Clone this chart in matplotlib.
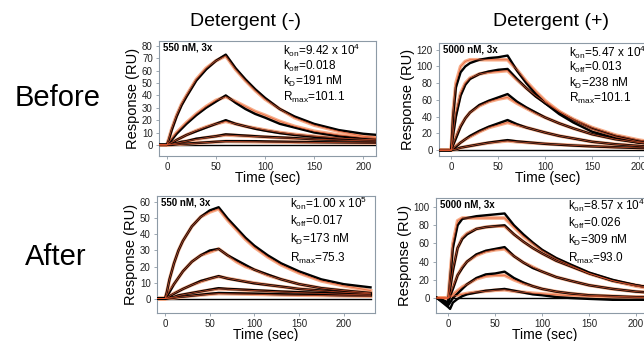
import matplotlib
matplotlib.use("Agg")
import matplotlib.pyplot as plt

plt.rcParams['font.family'] = ['Liberation Sans', 'DejaVu Sans']
plt.rcParams['mathtext.fontset'] = 'custom'
plt.rcParams['mathtext.rm'] = 'Liberation Sans'
plt.rcParams['mathtext.it'] = 'Liberation Sans:italic'
plt.rcParams['mathtext.default'] = 'regular'

# time grid (sec)
time = [-12, 0, 2, 5, 10, 15, 20, 30, 40, 50, 60, 70, 80, 90, 100, 115, 130, 150, 175, 200, 230]
blank = [0] * len(time)

# Before, Detergent (-) : data / fit
tl_data = [
    [0, 0, 4, 12, 23, 32, 39, 52, 61, 68, 73, 62, 53, 45, 38, 29, 23, 17, 12, 9, 7],
    [0, 0, 1, 4, 9, 13, 17, 24, 30, 35, 40, 34, 29, 25, 22, 17, 14, 10, 7, 5, 4],
    [0, 0, 0.5, 1.5, 4, 6, 8, 11, 14, 17, 20, 17, 15, 13, 11.5, 9.5, 8, 6.5, 5, 4, 3],
    [0, 0, 0.2, 0.5, 1.5, 2.5, 3, 5, 6, 7, 8.5, 8, 7.5, 7, 6.5, 6, 5.5, 4.5, 4, 3.5, 3],
    [0, 0, 0, 0, 0.5, 1, 1, 1.5, 2, 2.5, 3, 3, 3, 3, 2.8, 2.6, 2.4, 2.2, 2, 1.8, 1.6],
]
tl_fit = [
    [0, 0, 5, 13, 24, 33, 40, 53, 62, 68, 72, 61, 52, 44, 37, 29, 22, 16, 11, 7, 5],
    [0, 0, 2, 5, 10, 14, 18, 25, 31, 36, 39, 35, 31, 27, 24, 19, 15, 11, 8, 6, 4],
    [0, 0, 0.7, 2, 4, 6, 8, 11.5, 14.5, 17, 19, 17, 15, 13.5, 12, 10, 8.5, 7, 5.5, 4.5, 3.5],
    [0, 0, 0.2, 0.6, 1.4, 2.2, 3, 4.5, 5.8, 7, 8, 7.6, 7.2, 6.8, 6.4, 5.8, 5.3, 4.6, 3.9, 3.3, 2.7],
    [0, 0, 0, 0.1, 0.4, 0.7, 0.9, 1.4, 1.9, 2.4, 2.8, 2.7, 2.6, 2.5, 2.4, 2.3, 2.2, 2, 1.8, 1.6, 1.4],
]

# Before, Detergent (+)
tr_data = [
    [0, 0, 40, 75, 93, 100, 104, 108, 110, 111, 113, 95, 80, 67, 56, 43, 33, 22, 14, 9, 6],
    [0, 0, 18, 40, 65, 78, 85, 91, 94, 96, 97, 85, 74, 64, 56, 45, 36, 26, 17, 11, 7],
    [0, 0, 6, 14, 28, 38, 45, 54, 59, 63, 67, 58, 51, 45, 39, 32, 26, 19, 13, 9, 6],
    [0, 0, 1.5, 4, 9, 13, 17, 23, 28, 32, 36, 31, 27, 24, 21, 17, 14, 10, 7, 5, 3],
    [0, 0, 0.5, 1, 3, 4, 5, 7, 9, 10.5, 12, 10.5, 9.5, 8.5, 7.5, 6.5, 5.5, 4.5, 3.5, 2.5, 2],
]
tr_fit = [
    [0, 0, 45, 80, 100, 106, 108, 108, 108, 108, 108, 96, 82, 70, 59, 46, 36, 25, 16, 10, 6],
    [0, 0, 20, 45, 68, 80, 86, 91, 93, 94, 95, 84, 74, 65, 57, 46, 37, 27, 18, 12, 7],
    [0, 0, 7, 16, 29, 38, 45, 53, 58, 61, 63, 56, 50, 44, 39, 32, 26, 19, 13, 9, 6],
    [0, 0, 2, 5, 9, 13, 16, 22, 27, 30, 33, 30, 27, 24, 21, 17, 14, 10, 7, 5, 3],
    [0, 0, 0.5, 1.2, 2.8, 4, 5, 7, 8.7, 10, 11, 10, 9.2, 8.4, 7.6, 6.6, 5.7, 4.6, 3.5, 2.7, 2],
]

# After, Detergent (-)
bl_data = [
    [0, 0, 4, 12, 22, 30, 36, 45, 51, 55, 57, 50, 44, 38, 33, 27, 22, 17, 12, 9, 7],
    [0, 0, 1.5, 4, 9, 13, 17, 23, 27, 30, 31, 27, 24, 21, 18, 15, 12, 9, 6.5, 5, 3.5],
    [0, 0, 0.5, 1.5, 3, 4.5, 6, 8.5, 11, 12.5, 14, 12.5, 11.5, 10.5, 9.5, 8.5, 7.5, 6, 5, 4, 3],
    [0, 0, 0.2, 0.5, 1, 2, 2.5, 3.5, 4.5, 5.5, 6.5, 6, 5.8, 5.5, 5.2, 4.8, 4.4, 4, 3.5, 3, 2.5],
    [0, 0, 0, 0.2, 0.5, 1, 1.2, 1.8, 2.4, 3, 3.5, 3.4, 3.3, 3.2, 3.1, 2.9, 2.7, 2.5, 2.3, 2, 1.8],
]
bl_fit = [
    [0, 0, 4, 12, 22, 30, 36, 45, 51, 54, 56, 49, 43, 37, 32, 26, 21, 16, 11, 8, 5],
    [0, 0, 2, 5, 9, 13, 17, 23, 27, 29, 31, 27, 23, 20, 18, 14.5, 12, 9, 6.5, 5, 3.5],
    [0, 0, 0.6, 1.6, 3.2, 4.6, 6, 8.5, 10.6, 12.4, 13.8, 12.6, 11.6, 10.6, 9.7, 8.5, 7.4, 6.1, 4.9, 3.9, 3],
    [0, 0, 0.2, 0.5, 1, 1.8, 2.4, 3.4, 4.4, 5.3, 6.1, 5.9, 5.6, 5.3, 5, 4.6, 4.2, 3.7, 3.2, 2.7, 2.2],
    [0, 0, 0, 0.2, 0.4, 0.8, 1.1, 1.7, 2.2, 2.7, 3.1, 3.0, 2.9, 2.8, 2.7, 2.5, 2.3, 2.1, 1.9, 1.7, 1.5],
]

# After, Detergent (+)
br_data = [
    [0, -5, 20, 55, 80, 87, 88, 90, 91, 92, 93, 80, 70, 61, 53, 44, 37, 28, 20, 14, 9],
    [0, -5, 10, 30, 55, 65, 70, 76, 78, 79, 80, 70, 62, 55, 49, 41, 35, 27, 19, 14, 9],
    [0, -6, 2, 10, 25, 33, 40, 48, 52, 54, 56, 46, 39, 33, 29, 23, 19, 14, 10, 7, 5],
    [0, -8, -5, 0, 5, 10, 15, 22, 26, 27, 29, 22, 17, 13, 10, 7, 5, 3, 2, 1, 1],
    [0, -10, -12, -5, -1, 2, 4, 6, 8, 9, 10, 8, 6, 4, 3, 1, 0, -1, -2, -2, -2],
]
br_fit = [
    [0, 0, 25, 60, 85, 88, 88, 88, 88, 88, 88, 78, 68, 60, 52, 43, 36, 27, 19, 13, 8],
    [0, 0, 12, 32, 55, 66, 71, 76, 78, 79, 79, 70, 62, 55, 49, 41, 35, 27, 19, 14, 9],
    [0, 0, 4, 12, 25, 34, 40, 47, 51, 53, 54, 46, 39, 34, 29, 23, 19, 14, 10, 7, 5],
    [0, 0, 2, 4, 8, 12, 15, 21, 24, 25, 25, 20, 16, 13, 10, 7, 5, 3, 2, 1, 1],
    [0, 0, 1, 2, 3, 4, 5, 6.5, 7.5, 8.5, 9, 7.5, 6.3, 5.3, 4.5, 3.5, 2.7, 1.9, 1.2, 0.8, 0.5],
]

panel_labels = ["550 nM, 3x", "5000 nM, 3x", "550 nM, 3x", "5000 nM, 3x"]
kon_text = [r"k$_{on}$=9.42 x 10$^{4}$", r"k$_{on}$=5.47 x 10$^{4}$",
            r"k$_{on}$=1.00 x 10$^{5}$", r"k$_{on}$=8.57 x 10$^{4}$"]
koff_text = [r"k$_{off}$=0.018", r"k$_{off}$=0.013", r"k$_{off}$=0.017", r"k$_{off}$=0.026"]
kd_text = [r"k$_{D}$=191 nM", r"k$_{D}$=238 nM", r"k$_{D}$=173 nM", r"k$_{D}$=309 nM"]
rmax_text = [r"R$_{max}$=101.1", r"R$_{max}$=101.1", r"R$_{max}$=75.3", r"R$_{max}$=93.0"]
col_titles = ["Detergent (-)", "Detergent (+)"]
row_titles = ["Before", "After"]
x_ticks = [0, 50, 100, 150, 200]
y_ticks = [list(range(0, 81, 10)), list(range(0, 121, 20)),
           list(range(0, 61, 10)), list(range(0, 101, 20))]

W, H = 644, 341
fig = plt.figure(figsize=(W / 100, H / 100), dpi=100)

def rect(l, r, t, b):
    return [l / W, 1 - b / H, (r - l) / W, (b - t) / H]

rects = [rect(159, 376, 41, 156), rect(439, 656, 43, 156),
         rect(157, 375, 196, 313), rect(436, 653, 198, 313)]
xlims = [(-8, 213), (-13, 218), (-9, 235), (-13, 218)]
ylims = [(-9, 84), (-7, 128), (-9, 64), (-16.5, 110)]
datas = [tl_data, tr_data, bl_data, br_data]
fits = [tl_fit, tr_fit, bl_fit, br_fit]
text_x = [0.57, 0.60, 0.61, 0.61]
text_y = [[0.92, 0.78, 0.645, 0.51], [0.92, 0.78, 0.645, 0.51],
          [0.94, 0.78, 0.63, 0.47], [0.94, 0.78, 0.63, 0.47]]

spine_col = '#8d9aa6'
for i in range(4):
    ax = fig.add_axes(rects[i])
    ax.plot(time, blank, color='black', lw=1.0, zorder=2)
    for f in fits[i]:
        ax.plot(time, f, color='#f6a47c', lw=2.6, alpha=0.9, zorder=2)
    for d in datas[i]:
        ax.plot(time, d, color='black', lw=1.7, zorder=3)
    for f in fits[i]:
        ax.plot(time, f, color='#e4572e', lw=0.6, alpha=0.8, zorder=4)
    ax.set_xlim(*xlims[i])
    ax.set_ylim(*ylims[i])
    ax.set_xticks(x_ticks)
    ax.set_yticks(y_ticks[i])
    for s in ax.spines.values():
        s.set_color(spine_col)
        s.set_linewidth(0.8)
    ax.tick_params(labelsize=7, length=2.5, width=0.6, color=spine_col,
                   labelcolor='#222222', pad=2)
    ax.set_xlabel("Time (sec)", fontsize=10, labelpad=-1)
    ax.set_ylabel("Response (RU)", fontsize=10.5, labelpad=1)
    ax.text(0.02, 0.985, panel_labels[i], transform=ax.transAxes, fontsize=7,
            fontweight='bold', va='top', ha='left')
    for txt, yy in zip([kon_text[i], koff_text[i], kd_text[i], rmax_text[i]], text_y[i]):
        ax.text(text_x[i], yy, txt, transform=ax.transAxes, fontsize=8.5,
                va='center', ha='left')

fig.text(245 / W, 1 - 22 / H, col_titles[0], fontsize=14, ha='center', va='center')
fig.text(551 / W, 1 - 22 / H, col_titles[1], fontsize=14, ha='center', va='center')
fig.text(58 / W, 1 - 98 / H, row_titles[0], fontsize=21, ha='center', va='center')
fig.text(56 / W, 1 - 257 / H, row_titles[1], fontsize=21, ha='center', va='center')

fig.savefig("out.png", dpi=100)
